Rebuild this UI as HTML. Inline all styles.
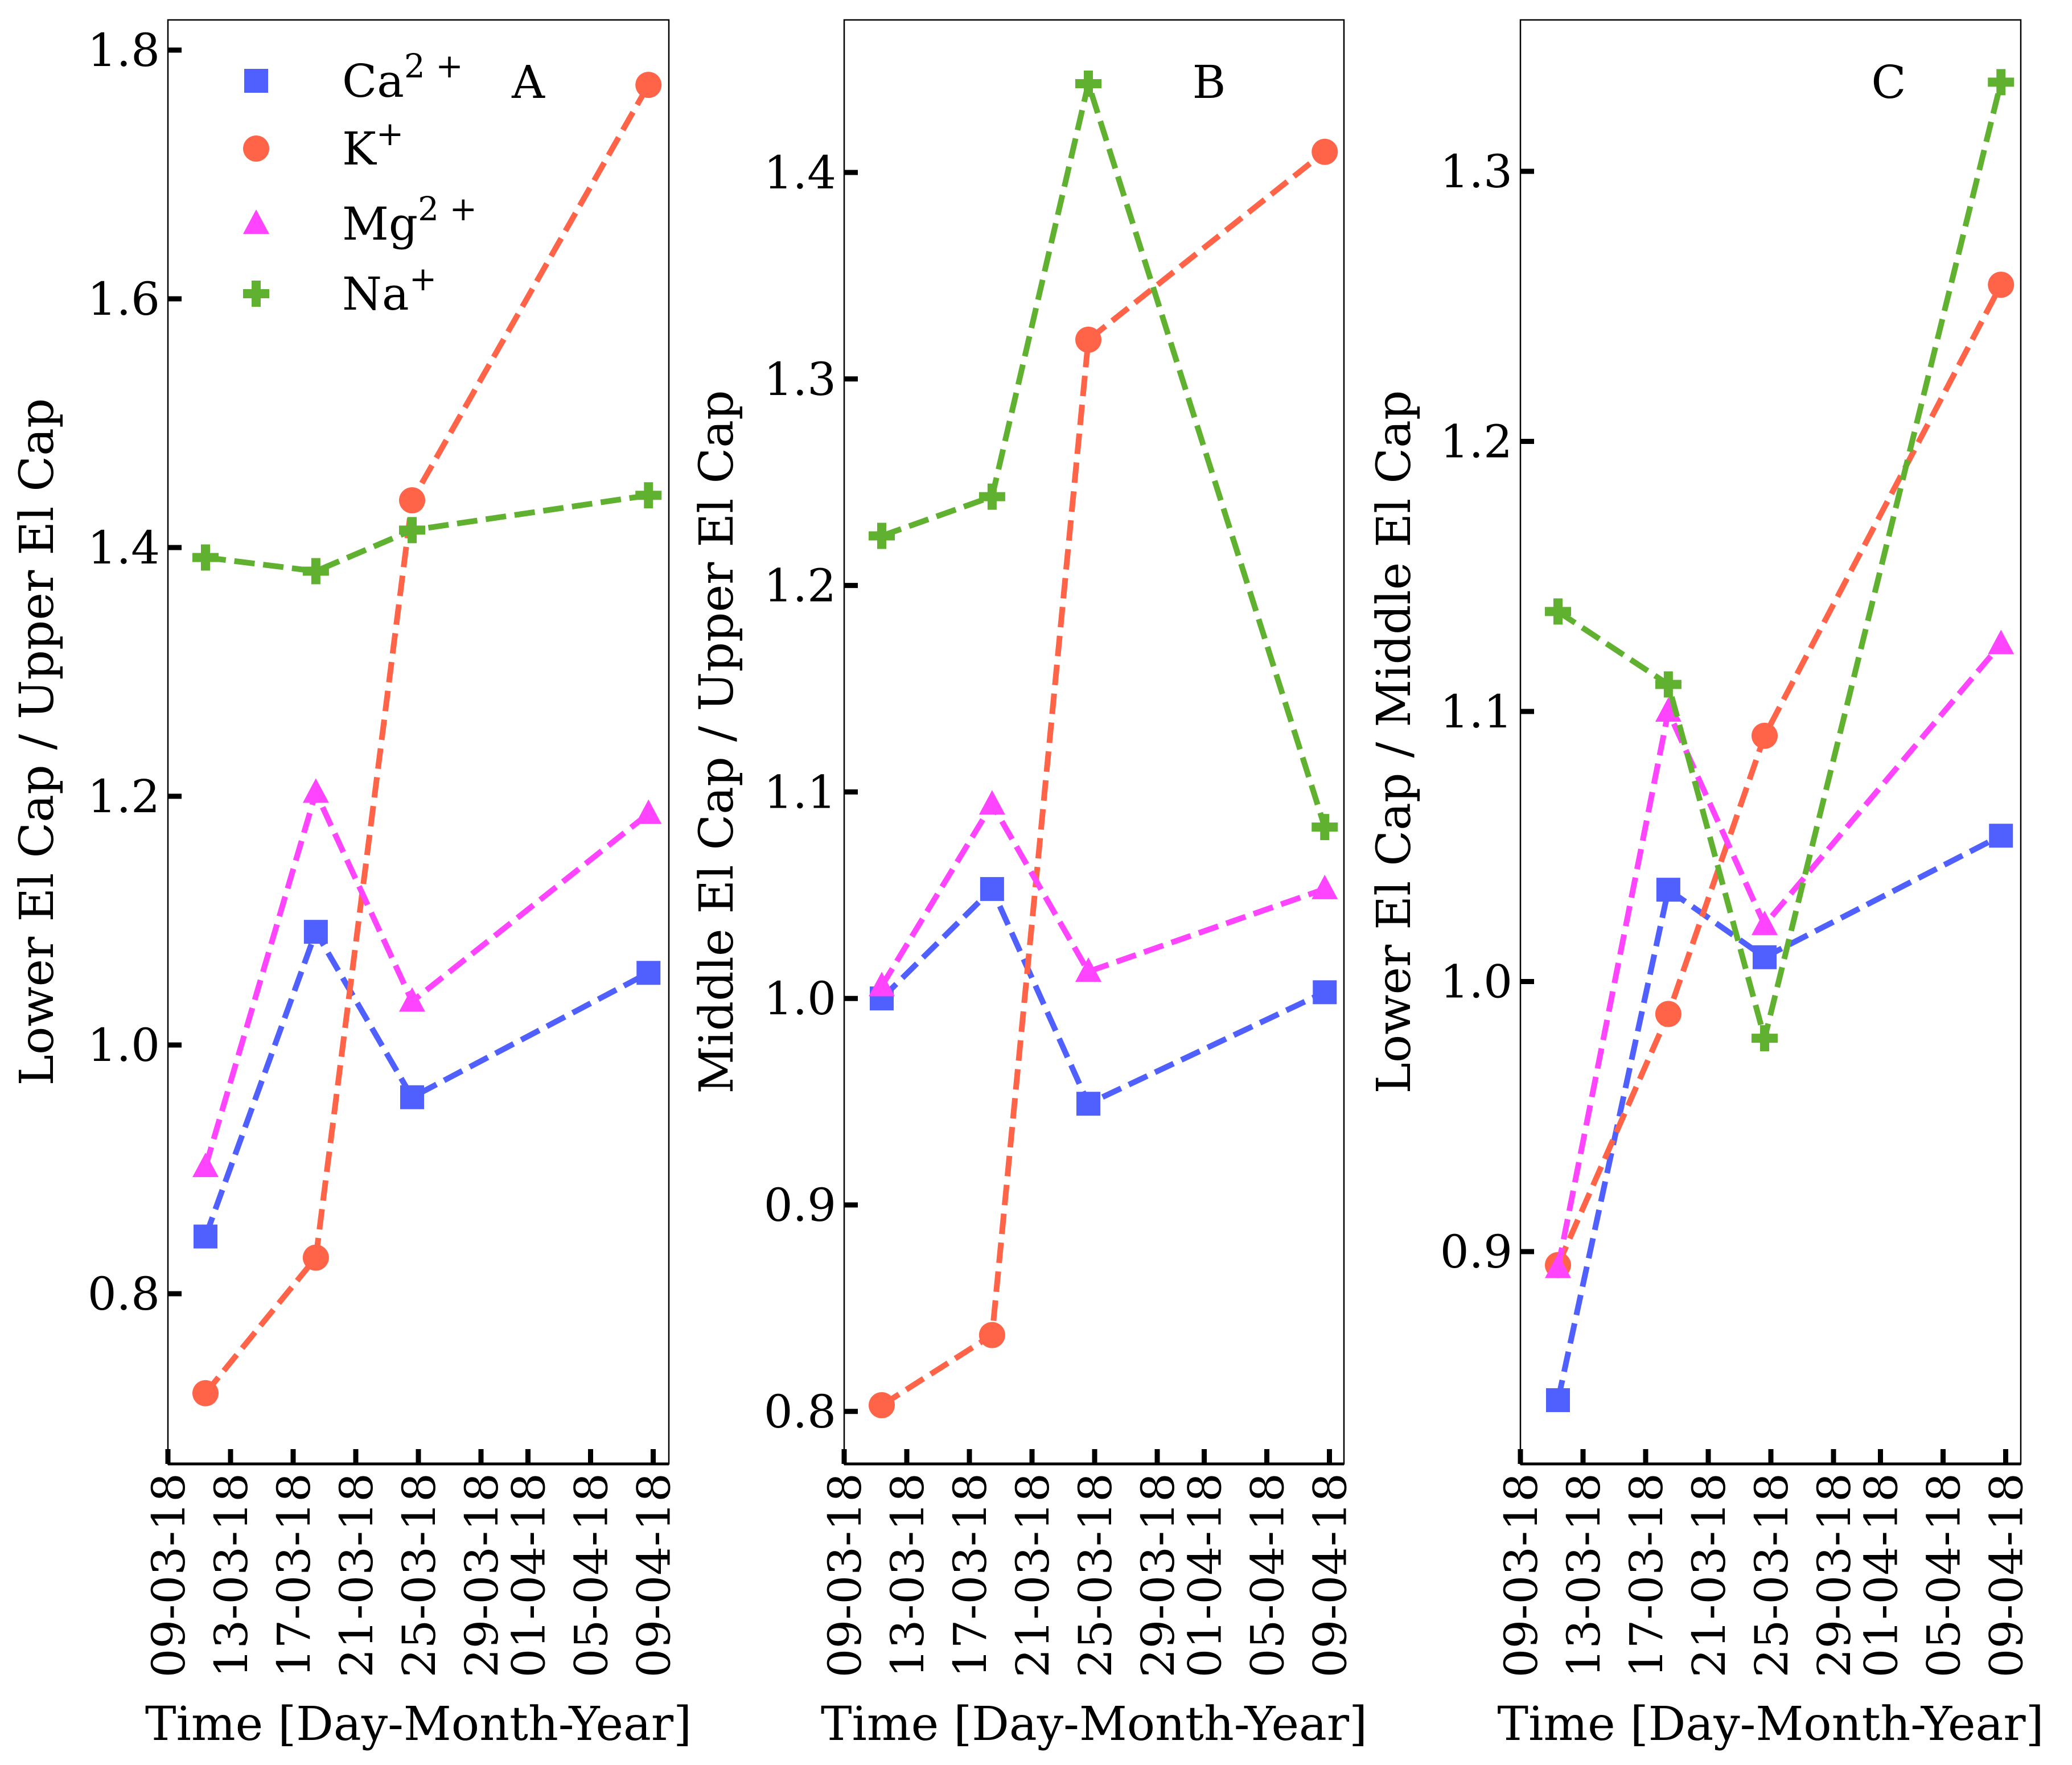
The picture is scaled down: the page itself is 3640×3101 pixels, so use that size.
<!DOCTYPE html>
<html><head><meta charset="utf-8">
<style>
html,body{margin:0;padding:0;background:#fff;}
svg{display:block;}
text{font-family:"DejaVu Serif","Liberation Serif",serif;fill:#000;}
</style></head>
<body>
<svg id="fig" width="3640" height="3101" viewBox="0 0 3640 3101" xmlns="http://www.w3.org/2000/svg"></svg>
<script>
// ---- data ----
const dayOffsets = [2.4, 9.45, 15.6, 30.7]; // days since 09-03-18
const xTickDays = [0, 4, 8, 12, 16, 20, 23, 27, 31];
const xTickLabels = ["09-03-18","13-03-18","17-03-18","21-03-18","25-03-18","29-03-18","01-04-18","05-04-18","09-04-18"];
const seriesNames = ["Ca", "K", "Mg", "Na"];
// Panel A: Lower / Upper
const caA = [0.846, 1.091, 0.958, 1.058];
const kA  = [0.720, 0.829, 1.438, 1.772];
const mgA = [0.902, 1.203, 1.035, 1.186];
const naA = [1.392, 1.381, 1.414, 1.442];
// Panel B: Middle / Upper
const caB = [1.000, 1.053, 0.949, 1.003];
const kB  = [0.803, 0.837, 1.319, 1.410];
const mgB = [1.006, 1.094, 1.013, 1.053];
const naB = [1.224, 1.243, 1.443, 1.083];
// Panel C: Lower / Middle
const caC = [0.845, 1.034, 1.009, 1.054];
const kC  = [0.895, 0.988, 1.091, 1.258];
const mgC = [0.894, 1.100, 1.021, 1.125];
const naC = [1.137, 1.110, 0.979, 1.333];
const yTicksA = [0.8, 1.0, 1.2, 1.4, 1.6, 1.8];
const yTicksB = [0.8, 0.9, 1.0, 1.1, 1.2, 1.3, 1.4];
const yTicksC = [0.9, 1.0, 1.1, 1.2, 1.3];

const NS = "http://www.w3.org/2000/svg";
const svg = document.getElementById("fig");
const colors = {Ca:"#5060ff", K:"#ff6449", Mg:"#ff44ff", Na:"#5fb12f"};
function mk(tag, attrs, parent){
  const e = document.createElementNS(NS, tag);
  for (const k in attrs) e.setAttribute(k, attrs[k]);
  (parent||svg).appendChild(e);
  return e;
}
function marker(g, type, cx, cy, color){
  let m;
  if (type==="Ca") m = mk("rect",{x:cx-21,y:cy-21,width:42,height:42,fill:color},g);
  else if (type==="K") m = mk("circle",{cx:cx,cy:cy,r:23,fill:color},g);
  else if (type==="Mg") m = mk("polygon",{points:`${cx},${cy-25} ${cx+23},${cy+18} ${cx-23},${cy+18}`,fill:color},g);
  else m = mk("path",{d:`M${cx-8},${cy-23}h16v15h15v16h-15v15h-16v-15h-15v-16h15z`,fill:color},g);
  return m;
}
const T=35, B=2572;
const panels = [
  {id:"a", left:295, right:1175, y0:1.8, py0:88, per:2185, ticks:yTicksA, dec:1, data:[caA,kA,mgA,naA], label:"A", lx:928, ylabel:"Lower El Cap / Upper El Cap", ylx:64},
  {id:"b", left:1483, right:2361, y0:1.4, py0:303, per:3628, ticks:yTicksB, dec:1, data:[caB,kB,mgB,naB], label:"B", lx:2124, ylabel:"Middle El Cap / Upper El Cap", ylx:1258},
  {id:"c", left:2671, right:3550, y0:1.3, py0:301, per:4745, ticks:yTicksC, dec:1, data:[caC,kC,mgC,naC], label:"C", lx:3318, ylabel:"Lower El Cap / Middle El Cap", ylx:2448}
];
panels.forEach(p=>{
  const g = mk("g",{});
  
  
  const xs = d => p.left + d*27.5;
  const ys = v => p.py0 + (p.y0 - v)*p.per;
  const fr = mk("rect",{x:p.left,y:T,width:p.right-p.left,height:B-T,fill:"none",stroke:"#000","stroke-width":2.5},g);
  
  
  mk("line",{x1:p.left,y1:B,x2:p.right,y2:B,stroke:"#000","stroke-width":5},g);
  p.ticks.forEach(v=>{
    const y = ys(v);
    mk("line",{x1:p.left,y1:y,x2:p.left+24,y2:y,stroke:"#000","stroke-width":9},g);
    const t = mk("text",{x:p.left-14,y:y+28,"font-size":80,"text-anchor":"end"},g);
    t.textContent = v.toFixed(p.dec);
    
    
  });
  xTickDays.forEach((d,i)=>{
    const x = xs(d);
    mk("line",{x1:x,y1:B,x2:x,y2:B-26,stroke:"#000","stroke-width":9},g);
    const t = mk("text",{x:0,y:0,"font-size":80,"text-anchor":"end",transform:`translate(${x+29},${B+16}) rotate(-90)`},g);
    t.textContent = xTickLabels[i];
    
    
  });
  p.data.forEach((arr,si)=>{
    const name = seriesNames[si], c = colors[name];
    const pts = arr.map((v,i)=>`${xs(dayOffsets[i])},${ys(v)}`).join(" ");
    const pl = mk("polyline",{points:pts,fill:"none",stroke:c,"stroke-width":10,"stroke-dasharray":"36 15"},g);
    
    
    arr.forEach((v,i)=>{
      const m = marker(g, name, xs(dayOffsets[i]), ys(v), c);
      
      
    });
  });
  const pl = mk("text",{x:p.lx,y:172,"font-size":80,"text-anchor":"middle"},g);
  pl.textContent = p.label;
  
  
  const xl = mk("text",{x:(p.left+p.right)/2,y:3057,"font-size":82,"text-anchor":"middle"},g);
  xl.textContent = "Time [Day-Month-Year]";
  
  
  const yl = mk("text",{x:0,y:0,"font-size":82,"text-anchor":"middle",transform:`translate(${p.ylx+29},${(T+B)/2}) rotate(-90)`},g);
  yl.textContent = p.ylabel;
  
  
});
const lg = mk("g",{});


const legY = [142, 261, 393, 516];
const legHtml = [["Ca","2 +"],["K","+"],["Mg","2 +"],["Na","+"]];
seriesNames.forEach((n,i)=>{
  const m = marker(lg, n, 450, legY[i], colors[n]);
  
  
  const t = mk("text",{x:601,y:legY[i]+28,"font-size":80},lg);
  
  
  const s1 = mk("tspan",{},t); s1.textContent = legHtml[i][0];
  const s2 = mk("tspan",{dy:-34,"font-size":58,"xml:space":"preserve"},t); s2.textContent = legHtml[i][1];
});
</script>
</body></html>
